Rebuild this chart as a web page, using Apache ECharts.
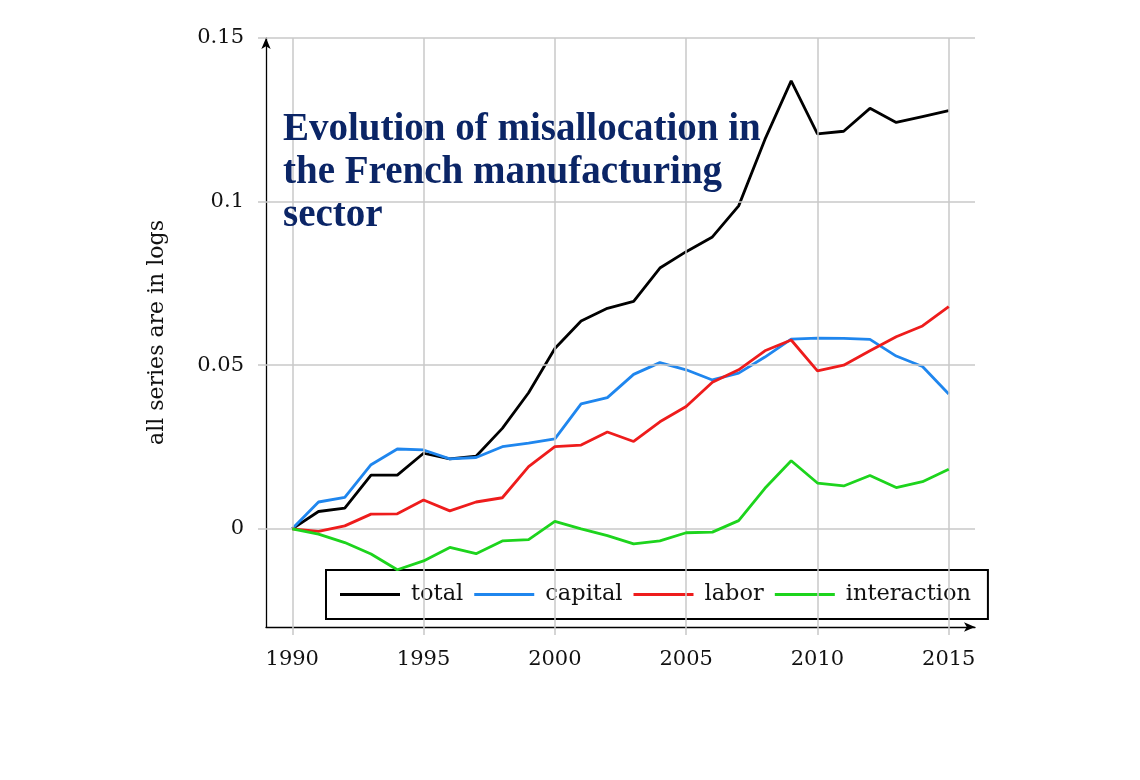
<!DOCTYPE html>
<html>
<head>
<meta charset="utf-8">
<script src="https://cdn.jsdelivr.net/npm/echarts@6/dist/echarts.min.js"></script>
<style>html,body{margin:0;padding:0;background:#fff}#c{width:1140px;height:780px}</style>
</head>
<body>
<div id="c"></div>
<script>
const years = [1990,1991,1992,1993,1994,1995,1996,1997,1998,1999,2000,2001,2002,2003,2004,2005,2006,2007,2008,2009,2010,2011,2012,2013,2014,2015];
const total = [0,0.0053,0.0063,0.0164,0.0164,0.0231,0.0214,0.0222,0.0307,0.0416,0.0551,0.0635,0.0674,0.0695,0.0797,0.0847,0.0892,0.0987,0.1190,0.1369,0.1207,0.1215,0.1285,0.1242,0.1260,0.1278];
const capital = [0,0.0082,0.0096,0.0196,0.0244,0.0241,0.0214,0.0218,0.0251,0.0262,0.0275,0.0382,0.0401,0.0472,0.0508,0.0486,0.0455,0.0476,0.0525,0.0580,0.0583,0.0582,0.0579,0.0528,0.0496,0.0412];
const labor = [0,-0.0008,0.0009,0.0045,0.0046,0.0088,0.0055,0.0082,0.0095,0.0190,0.0251,0.0256,0.0296,0.0267,0.0327,0.0374,0.0448,0.0486,0.0544,0.0577,0.0483,0.0500,0.0544,0.0587,0.0620,0.0679];
const interaction = [0,-0.0016,-0.0042,-0.0077,-0.0125,-0.0098,-0.0057,-0.0076,-0.0037,-0.0033,0.0023,0,-0.0021,-0.0046,-0.0037,-0.0012,-0.0010,0.0025,0.0124,0.0208,0.0140,0.0131,0.0163,0.0126,0.0144,0.0182];
const xTicks = [1990,1995,2000,2005,2010,2015];
const yTicks = [0,0.05,0.1,0.15];
const seriesNames = ['total','capital','labor','interaction'];
const titleLines = ['Evolution of misallocation in','the French manufacturing','sector'];
const yAxisName = 'all series are in logs';

const colors = ['#000000','#1f86ee','#ee1c1c','#1dd41d'];
const serif = '"DejaVu Serif", serif';
const pair = arr => years.map((y,i)=>[y,arr[i]]);

const chart = echarts.init(document.getElementById('c'), null, {renderer:'canvas'});
const gridLine = {color:'#c8c8c8', width:1.5, type:'solid'};
chart.setOption({
  animation:false,
  backgroundColor:'#fff',
  title:{
    text: titleLines.join('\n'),
    left:278, top:103,
    textStyle:{fontFamily:'"Liberation Serif", serif', fontWeight:'bold', fontSize:39, lineHeight:43, color:'#0b2566'}
  },
  grid:{left:266, top:38, width:709, height:589, containLabel:false},
  xAxis:{
    type:'value', min:1989, max:2016, interval:1,
    axisLine:{onZero:false, lineStyle:{color:'#000', width:1.3}, symbol:['none','arrow'], symbolSize:[7,11]},
    axisTick:{show:true, customValues:xTicks, length:8, inside:false, lineStyle:{color:'#c8c8c8', width:1.5}},
    axisLabel:{customValues:xTicks, formatter: v=>String(v), fontFamily:serif, fontSize:21, color:'#111', margin:22},
    splitLine:{show:false}
  },
  yAxis:{
    type:'value', min:-0.03, max:0.15, interval:0.01,
    name:yAxisName, nameLocation:'middle', nameGap:98, nameRotate:90,
    nameTextStyle:{fontFamily:serif, fontSize:22, color:'#111'},
    axisLine:{onZero:false, lineStyle:{color:'#000', width:1.3}, symbol:['none','arrow'], symbolSize:[7,11]},
    axisTick:{show:true, customValues:yTicks, length:8, lineStyle:{color:'#c8c8c8', width:1.5}},
    axisLabel:{customValues:yTicks, formatter: v=>String(Math.round(v*100)/100), fontFamily:serif, fontSize:21, color:'#111', margin:22},
    splitLine:{show:false}
  },
  legend:{
    data:seriesNames,
    left:326, top:570,
    orient:'horizontal',
    icon:'rect',
    backgroundColor:'#fff',
    borderColor:'#000', borderWidth:2,
    padding:[13,17,13,14],
    itemWidth:60, itemHeight:3, itemGap:11,
    textStyle:{fontFamily:serif, fontSize:22.5, color:'#111', padding:[0,0,0,6]}
  },
  series:[
    {type:'line', name:'grid', data:[], silent:true, symbol:'none',
     markLine:{silent:true, symbol:'none', label:{show:false}, lineStyle:gridLine, animation:false,
       data: xTicks.map(x=>({xAxis:x})).concat(yTicks.map(y=>({yAxis:y})))}},
    ...[total,capital,labor,interaction].map((arr,i)=>({
      type:'line', name:seriesNames[i], data:pair(arr), symbol:'none', showSymbol:false,
      lineStyle:{color:colors[i], width:2.8}, itemStyle:{color:colors[i]}, z:3+i
    }))
  ]
});
</script>
</body>
</html>
